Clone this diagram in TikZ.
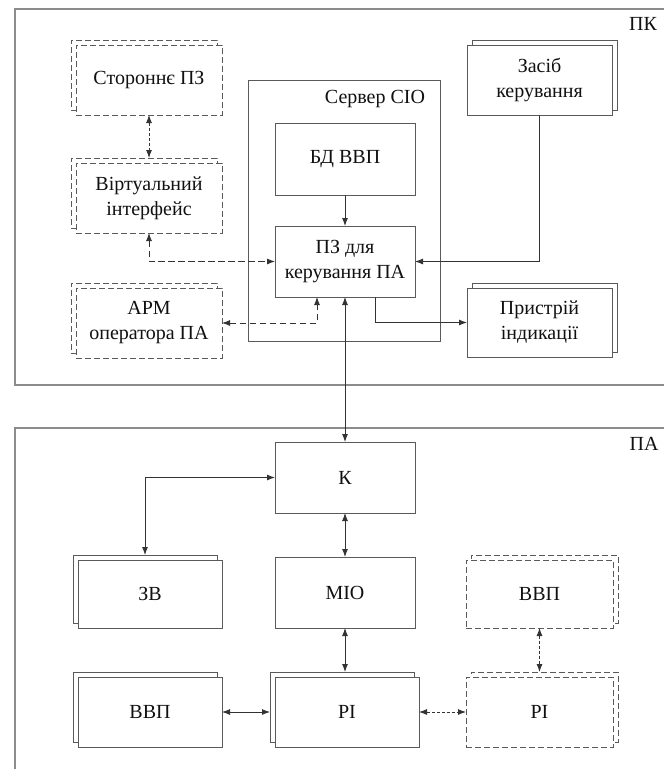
\documentclass[tikz,border=0pt]{standalone}
\usepackage{fontspec}
\setmainfont{Liberation Serif}
\newfontfamily\diagfont{Liberation Serif}
\usetikzlibrary{arrows.meta}
\definecolor{boxc}{HTML}{5A5A5A}
\definecolor{panelc}{HTML}{8C8C8C}
\definecolor{linec}{HTML}{333333}
\definecolor{txtc}{HTML}{111111}
\begin{document}
\begin{tikzpicture}[x=1pt,y=-1pt,
  every node/.style={font=\diagfont\fontsize{20}{25}\selectfont, text=txtc},
  box/.style={draw=boxc, line width=0.9pt, fill=white, inner sep=0pt, outer sep=0pt, align=center},
  dbox/.style={box, dash pattern=on 6pt off 3pt},
  szL/.style={minimum width=146pt, minimum height=70pt},
  szM/.style={minimum width=140pt, minimum height=71pt},
  tip/.tip={Latex[length=8pt,width=6pt]},
  solidc/.style={draw=linec, line width=0.9pt},
  dashc/.style={draw=linec, line width=0.9pt, dash pattern=on 6.5pt off 3.5pt},
  dotc/.style={draw=linec, line width=0.9pt, dash pattern=on 3pt off 2pt},
  arr/.style={-tip},
  both/.style={tip-tip},
  panel/.style={draw=panelc, line width=1.2pt}
]
\useasboundingbox (0,0) rectangle (664,769);
\clip (0,0) rectangle (664,769);
\fill[white] (0,0) rectangle (664,769);

% panels
\node[panel, inner sep=0pt, outer sep=0pt, minimum width=670pt, minimum height=376pt, anchor=north west] (pk) at (15,9) {};
\node[anchor=center] (pklab) at (643,24) {ПК};
\node[panel, inner sep=0pt, outer sep=0pt, minimum width=670pt, minimum height=380pt, anchor=north west] (pa) at (15,428) {};
\node[anchor=center] (palab) at (644,444) {ПА};

% server
\node[box, fill=none, minimum width=192pt, minimum height=261pt] (srv) at (344,210.5) {};
\node (srvlab) at (375,99) {Сервер СІО};

% top-left dashed double boxes
\node[dbox, szL] (sb) at (144,75) {};
\node[dbox, szL] (s) at (149,80) {Стороннє ПЗ};
\node[dbox, szL] (vb) at (144,193) {};
\node[dbox, szL] (v) at (149,198) {Віртуальний\\інтерфейс};
\node[dbox, szL] (ab) at (144,318) {};
\node[dbox, szL] (a) at (149,323) {АРМ\\оператора ПА};

% server contents
\node[box, minimum width=140pt, minimum height=72pt] (bd) at (345,159) {БД ВВП};
\node[box, szM] (pz) at (345,261.5) {ПЗ для\\керування ПА};

% right double boxes
\node[box, minimum width=145pt, minimum height=70pt] (zb) at (544.5,75) {};
\node[box, minimum width=145pt, minimum height=70pt] (z) at (539.5,80) {Засіб\\керування};
\node[box, minimum width=145pt, minimum height=69pt] (prb) at (544.5,317.5) {};
\node[box, minimum width=145pt, minimum height=69pt] (pr) at (539.5,322.5) {Пристрій\\індикації};

% bottom panel
\node[box, szM] (k) at (345,477.5) {К};
\node[box, minimum width=144pt, minimum height=68pt] (zvb) at (145,589) {};
\node[box, minimum width=144pt, minimum height=68pt] (zv) at (150,594) {ЗВ};
\node[box, szM] (mio) at (345,592.5) {МІО};
\node[dbox, minimum width=147pt, minimum height=68pt] (vdb) at (544.5,589) {};
\node[dbox, minimum width=147pt, minimum height=68pt] (vd) at (539.5,594) {ВВП};

\node[box, minimum width=144pt, minimum height=70pt] (vlb) at (145,707) {};
\node[box, minimum width=144pt, minimum height=70pt] (vl) at (150,712) {ВВП};
\node[box, minimum width=144pt, minimum height=70pt] (pib) at (342,707) {};
\node[box, minimum width=144pt, minimum height=70pt] (pi) at (347,712) {РІ};
\node[dbox, minimum width=147pt, minimum height=70pt] (pidb) at (544.5,707) {};
\node[dbox, minimum width=147pt, minimum height=70pt] (pid) at (539.5,712) {РІ};

% connectors top
\draw[dotc, both] (s.south) -- (s.south |- vb.north);
\draw[dashc, both] (v.south) |- (pz.west);
\draw[dashc, both] (a.east) -| ([xshift=-28pt]pz.south);
\draw[solidc, arr] (z.south) |- (pz.east);
\draw[solidc, arr] ([xshift=30pt]pz.south) |- (pr.west);
\draw[solidc, arr] (bd.south) -- (pz.north);
\draw[solidc, both] (pz.south) -- (k.north);

% connectors bottom
\draw[solidc, both] (k.west) -| (zvb.north);
\draw[solidc, both] (k.south) -- (mio.north);
\draw[solidc, both] (mio.south) -- (mio.south |- pib.north);
\draw[solidc, both] (vl.east) -- (vl.east -| pib.west);
\draw[dotc, both] (pi.east) -- (pid.west);
\draw[dotc, both] (vd.south) -- (vd.south |- pidb.north);
\end{tikzpicture}
\end{document}
